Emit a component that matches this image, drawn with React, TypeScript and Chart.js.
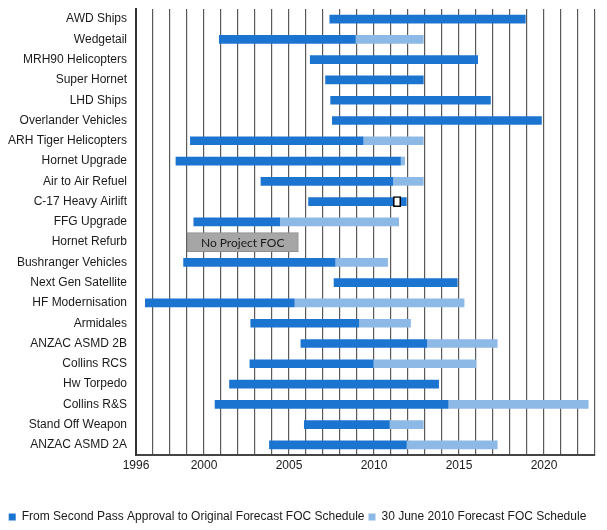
import React, { useEffect, useRef } from "react";
import { Chart, registerables } from "chart.js";

Chart.register(...registerables);

const projects = [
  "AWD Ships", "Wedgetail", "MRH90 Helicopters", "Super Hornet", "LHD Ships",
  "Overlander Vehicles", "ARH Tiger Helicopters", "Hornet Upgrade", "Air to Air Refuel",
  "C-17 Heavy Airlift", "FFG Upgrade", "Hornet Refurb", "Bushranger Vehicles",
  "Next Gen Satellite", "HF Modernisation", "Armidales", "ANZAC ASMD 2B", "Collins RCS",
  "Hw Torpedo", "Collins R&S", "Stand Off Weapon", "ANZAC ASMD 2A",
];

// Second Pass Approval date
const approvalStart = [
  2007.4, 2000.9, 2006.25, 2007.15, 2007.45, 2007.55, 1999.2, 1998.35, 2003.35, 2006.15,
  1999.4, null, 1998.8, 2007.65, 1996.55, 2002.75, 2005.7, 2002.7, 2001.5, 2000.65, 2005.9, 2003.85,
];
// Original forecast FOC
const originalFoc = [
  2018.9, 2008.9, 2016.1, 2012.9, 2016.85, 2019.85, 2009.35, 2011.55, 2011.1, 2011.9,
  2004.45, null, 2007.7, 2014.9, 2005.3, 2009.1, 2013.1, 2009.95, 2013.8, 2014.35, 2010.9, 2011.9,
];
// 30 June 2010 forecast FOC (where later than original)
const forecastFoc = [
  null, 2012.9, null, null, null, null, 2012.9, 2011.8, 2012.9, null,
  2011.45, null, 2010.8, null, 2015.3, 2012.15, 2017.25, 2016.0, null, 2022.6, 2012.9, 2017.25,
];

const noFocProject = "Hornet Refurb";
const noFocRange = [1999, 2005.55];
const noFocText = "No Project FOC";
const markerProject = "C-17 Heavy Airlift";
const markerRange = [2011.14, 2011.57];

const xMin = 1996;
const xMax = 2023;
const tickLabels = [1996, 2000, 2005, 2010, 2015, 2020];

const seriesNames = [
  "From Second Pass Approval to Original Forecast FOC Schedule",
  "30 June 2010 Forecast FOC Schedule",
];

const DARK = "#1B74D0";
const LIGHT = "#8DB9E7";
const FONT = "'Liberation Sans', Arial, sans-serif";

export default function App() {
  const ref = useRef<HTMLCanvasElement | null>(null);

  useEffect(() => {
    if (!ref.current) return;
    const darkData = projects.map((_, i) =>
      approvalStart[i] != null && originalFoc[i] != null ? [approvalStart[i], originalFoc[i]] : null
    );
    const lightData = projects.map((_, i) =>
      forecastFoc[i] != null && originalFoc[i] != null ? [originalFoc[i], forecastFoc[i]] : null
    );
    const grayData = projects.map((p) => (p === noFocProject ? noFocRange : null));
    const markerData = projects.map((p) => (p === markerProject ? markerRange : null));

    const textPlugin = {
      id: "noFocText",
      afterDatasetsDraw(chart: any) {
        const meta = chart.getDatasetMeta(2);
        const idx = projects.indexOf(noFocProject);
        const el = meta.data[idx];
        if (!el) return;
        const ctx = chart.ctx;
        ctx.save();
        ctx.font = "12px Lato, 'Open Sans', sans-serif";
        ctx.fillStyle = "#1a1a1a";
        ctx.textAlign = "center";
        ctx.textBaseline = "middle";
        ctx.fillText(noFocText, (el.x + el.base) / 2, el.y + 1);
        ctx.restore();
      },
    };

    const chart = new Chart(ref.current, {
      type: "bar",
      data: {
        labels: projects,
        datasets: [
          {
            label: seriesNames[0],
            data: darkData as any,
            backgroundColor: DARK,
            borderWidth: 0,
            barThickness: 8,
            grouped: false,
            order: 2,
          },
          {
            label: seriesNames[1],
            data: lightData as any,
            backgroundColor: LIGHT,
            borderWidth: 0,
            barThickness: 8,
            grouped: false,
            order: 3,
          },
          {
            label: "noFoc",
            data: grayData as any,
            backgroundColor: "#A6A6A6",
            borderColor: "#8E8E8E",
            borderWidth: 1,
            borderSkipped: false,
            barThickness: 19,
            grouped: false,
            order: 1,
          },
          {
            label: "marker",
            data: markerData as any,
            backgroundColor: "#FFFFFF",
            borderColor: "#000000",
            borderWidth: 1.5,
            borderSkipped: false,
            barThickness: 10,
            grouped: false,
            order: 0,
          },
        ] as any,
      },
      options: {
        indexAxis: "y",
        animation: false,
        responsive: false,
        maintainAspectRatio: false,
        layout: { padding: { left: 0, right: 12, top: 9, bottom: 0 } },
        plugins: {
          legend: {
            position: "bottom",
            labels: {
              boxWidth: 7,
              boxHeight: 7,
              padding: 4,
              color: "#1a1a1a",
              font: { family: FONT, size: 12 },
              filter: (item: any) => item.datasetIndex < 2,
            },
          },
          tooltip: { enabled: false },
        },
        scales: {
          x: {
            type: "linear",
            min: xMin,
            max: xMax,
            afterFit: (s: any) => {
              s.height = 52;
              s.paddingLeft = 0;
              s.paddingRight = 0;
            },
            grid: {
              color: "#5a5a5a",
              lineWidth: 1.2,
              drawTicks: false,
            },
            border: { display: true, color: "#444", width: 2 },
            ticks: {
              stepSize: 1,
              autoSkip: false,
              maxRotation: 0,
              padding: 3,
              color: "#1a1a1a",
              font: { family: FONT, size: 12 },
              callback: (v: any) => (tickLabels.includes(Number(v)) ? String(v) : ""),
            },
          },
          y: {
            type: "category",
            afterFit: (s: any) => {
              s.width = 136;
              s.paddingTop = 0;
              s.paddingBottom = 0;
            },
            grid: { display: false, drawTicks: false },
            border: { display: true, color: "#333", width: 2 },
            ticks: {
              padding: 9,
              color: "#1a1a1a",
              font: { family: FONT, size: 12 },
              autoSkip: false,
            },
          },
        },
      } as any,
      plugins: [textPlugin],
    });
    return () => chart.destroy();
  }, []);

  return (
    <div style={{ position: "fixed", left: 0, top: 0, width: 607, height: 533, background: "#fff" }}>
      <canvas ref={ref} width={607} height={533} style={{ display: "block", width: 607, height: 533 }} />
    </div>
  );
}
